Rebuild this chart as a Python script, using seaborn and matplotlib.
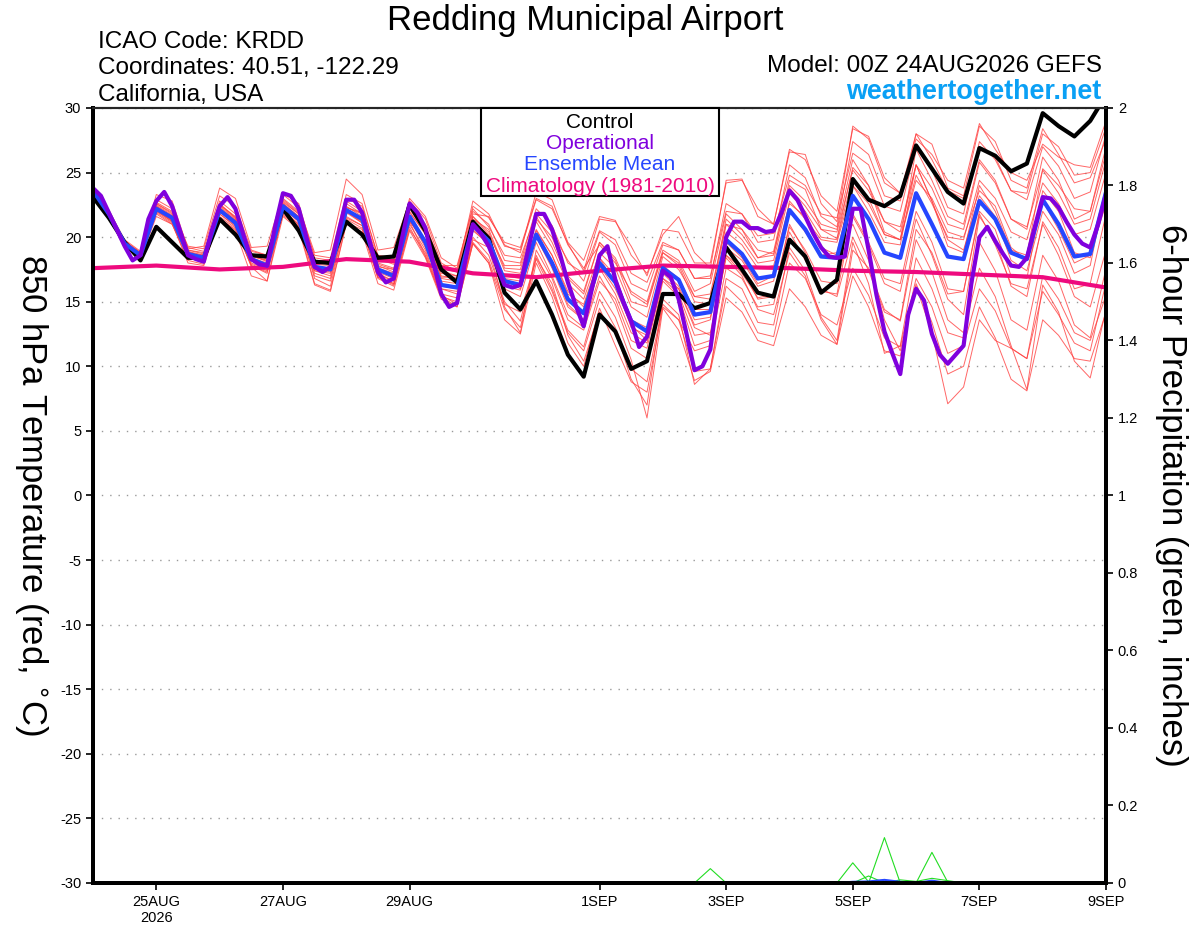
import numpy as np
import pandas as pd
import seaborn as sns
import matplotlib.pyplot as plt
from matplotlib.patches import Rectangle
from matplotlib.ticker import FuncFormatter

# forecast times (hours after 00Z 24AUG2026)
fcst_hours = np.arange(0, 385, 6)
op_hours = np.arange(0, 385, 3)      # operational run is 3-hourly
clim_hours = np.arange(0, 385, 24)   # climatology is daily

# 850 hPa temperature (C)
control = [23.1, 21.5, 19.6, 18.2, 20.8, 19.6, 18.4, 18.4, 21.4, 20.2, 18.6, 18.5,
           22.2, 20.5, 18.1, 18.0, 21.2, 20.2, 18.4, 18.5, 22.5, 20.5, 17.5, 16.5,
           21.2, 19.9, 15.7, 14.4, 16.6, 14.0, 10.9, 9.2, 14.0, 12.7, 9.8, 10.4,
           15.6, 15.6, 14.5, 14.9, 19.2, 17.5, 15.7, 15.4, 19.8, 18.5, 15.7, 16.7,
           24.5, 22.9, 22.4, 23.2, 27.1, 25.3, 23.5, 22.6, 26.9, 26.3, 25.1, 25.7,
           29.6, 28.6, 27.8, 29.0, 31.0]

ens_mean = [23.6, 21.8, 19.5, 18.6, 22.2, 21.5, 18.7, 18.4, 22.1, 21.1, 18.3, 17.8,
            22.4, 21.4, 17.7, 17.5, 22.1, 21.4, 17.5, 17.0, 21.6, 19.6, 16.3, 16.1,
            20.9, 19.7, 16.6, 16.3, 20.2, 18.0, 15.2, 14.1, 18.0, 16.5, 13.5, 12.7,
            17.6, 16.7, 14.0, 14.2, 19.8, 18.7, 16.8, 17.0, 22.1, 20.6, 18.5, 18.4,
            23.2, 21.4, 18.8, 18.4, 23.4, 21.0, 18.5, 18.3, 22.8, 21.4, 18.8, 18.3,
            22.9, 21.0, 18.5, 18.7, 23.5]

operational = [23.8, 23.2, 21.9, 20.6, 19.3, 18.2, 18.6, 21.4, 22.8, 23.5, 22.4, 20.5,
               18.6, 18.3, 18.1, 20.5, 22.4, 23.1, 22.2, 20.2, 18.3, 17.9, 17.8, 20.8,
               23.4, 23.2, 22.2, 19.9, 17.7, 17.3, 17.7, 20.3, 22.9, 22.9, 21.9, 19.6,
               17.3, 16.5, 16.8, 19.8, 22.6, 21.9, 20.7, 18.0, 15.6, 14.6, 14.9, 18.0,
               21.0, 20.3, 19.3, 17.8, 16.3, 16.1, 16.3, 19.1, 21.8, 21.8, 20.6, 18.7,
               16.5, 14.7, 13.1, 15.9, 18.6, 19.3, 16.7, 15.0, 13.5, 11.5, 12.3, 14.8,
               17.4, 16.9, 15.2, 12.5, 9.7, 10.0, 11.3, 15.8, 20.0, 21.2, 21.2, 20.7,
               20.7, 20.4, 20.5, 21.9, 23.6, 22.9, 21.6, 20.3, 19.2, 18.5, 18.4, 18.5,
               22.2, 22.2, 19.0, 15.5, 12.7, 11.0, 9.4, 14.0, 16.0, 15.1, 12.5, 10.9,
               10.2, 10.9, 11.6, 16.5, 20.0, 20.8, 19.7, 18.7, 17.8, 17.7, 18.4, 20.8,
               23.1, 23.0, 22.3, 21.2, 20.2, 19.5, 19.2, 21.0, 23.3]

climatology = [17.6, 17.8, 17.5, 17.7, 18.3, 18.1, 17.2, 16.9, 17.4,
               17.8, 17.7, 17.6, 17.4, 17.3, 17.1, 16.9, 16.1]

# ensemble members (850 hPa temperature, C)
m01 = [23.7, 22.0, 19.7, 18.8, 22.6, 21.8, 19.0, 18.7, 22.5, 21.6, 18.6, 18.1, 22.9, 21.9, 18.2, 17.9,
       22.8, 22.0, 18.3, 17.9, 22.4, 20.8, 17.6, 17.3, 22.0, 21.0, 18.2, 18.0, 22.2, 20.9, 18.0, 17.2,
       20.5, 19.8, 17.2, 16.5, 19.6, 19.0, 16.8, 17.0, 22.0, 21.8, 20.1, 20.3, 24.8, 24.0, 21.8, 21.5,
       26.5, 25.6, 22.4, 22.0, 27.0, 25.2, 22.3, 21.8, 27.4, 26.0, 23.6, 22.9, 27.0, 25.5, 23.0, 23.5, 28.0]
m02 = [23.4, 21.6, 19.2, 18.3, 21.6, 21.0, 18.2, 17.9, 21.6, 20.7, 17.8, 17.2, 21.8, 20.9, 17.0, 16.6,
       21.4, 20.7, 16.8, 16.2, 20.8, 18.5, 15.4, 15.0, 19.6, 18.2, 14.8, 14.2, 18.3, 15.8, 12.6, 11.2,
       15.2, 13.0, 9.8, 8.8, 14.8, 13.6, 9.6, 9.8, 16.2, 15.0, 12.6, 12.3, 18.0, 16.8, 14.0, 13.2,
       17.6, 15.5, 12.2, 11.5, 16.8, 14.6, 11.0, 11.6, 16.0, 14.3, 11.4, 10.6, 17.0, 15.2, 12.6, 12.0, 15.5]
m03 = [23.9, 22.1, 19.8, 18.9, 22.9, 22.2, 19.3, 19.1, 23.2, 22.4, 19.0, 18.6, 23.0, 22.0, 18.6, 18.4,
       23.3, 22.6, 18.5, 18.2, 23.0, 21.6, 18.4, 17.6, 22.4, 21.5, 19.6, 19.2, 23.0, 22.4, 19.4, 17.6,
       19.4, 18.0, 15.8, 15.0, 19.0, 18.2, 15.8, 16.4, 21.8, 20.6, 18.4, 18.9, 24.4, 23.7, 20.6, 19.9,
       25.4, 24.0, 21.2, 20.4, 25.6, 22.8, 19.3, 18.8, 24.0, 22.0, 19.0, 18.6, 25.3, 24.0, 22.2, 22.0, 26.5]
m04 = [23.5, 21.7, 19.4, 18.5, 22.0, 21.2, 18.4, 18.1, 21.8, 20.8, 17.9, 17.4, 22.0, 21.0, 17.2, 16.8,
       21.6, 20.9, 17.0, 16.4, 21.0, 19.0, 15.6, 15.3, 20.0, 18.6, 15.0, 13.5, 18.6, 16.0, 12.8, 11.5,
       15.8, 13.8, 10.5, 6.0, 14.5, 12.8, 8.9, 9.6, 15.3, 14.2, 12.0, 11.6, 16.0, 14.6, 12.4, 11.7,
       19.0, 17.6, 14.4, 13.5, 19.8, 17.3, 13.6, 12.6, 17.6, 15.4, 11.6, 8.2, 16.3, 14.2, 10.4, 9.1, 14.4]
m05 = [23.6, 21.9, 19.6, 18.7, 22.4, 21.6, 18.8, 18.6, 22.3, 21.3, 18.4, 18.0, 22.6, 21.6, 17.9, 17.8,
       22.3, 21.8, 17.8, 17.3, 21.9, 20.3, 17.0, 16.8, 21.6, 20.4, 17.4, 17.2, 21.2, 19.2, 16.4, 15.2,
       18.8, 17.6, 14.6, 13.8, 18.5, 17.5, 15.4, 15.6, 21.0, 19.8, 18.0, 18.2, 23.4, 22.0, 20.0, 19.8,
       24.6, 23.0, 20.2, 19.8, 24.8, 22.6, 20.0, 19.8, 24.4, 23.0, 20.4, 19.8, 24.2, 22.6, 20.2, 20.6, 25.0]
m06 = [23.3, 21.5, 19.2, 18.4, 21.8, 21.0, 18.5, 18.2, 21.4, 20.6, 17.8, 17.3, 21.7, 20.8, 16.4, 15.9,
       21.1, 20.6, 16.9, 16.3, 20.6, 18.8, 15.5, 14.8, 19.8, 19.2, 14.6, 12.6, 19.0, 16.8, 13.6, 12.8,
       16.6, 15.2, 12.0, 11.4, 16.8, 15.6, 12.4, 12.6, 18.6, 17.2, 15.3, 15.6, 20.8, 19.0, 16.6, 16.4,
       21.6, 19.4, 16.4, 15.8, 21.4, 18.6, 15.2, 14.0, 21.6, 19.8, 16.2, 15.4, 21.2, 19.2, 16.0, 16.4, 21.8]
m07 = [23.8, 22.1, 19.6, 18.8, 23.3, 22.8, 19.1, 19.3, 23.8, 23.0, 19.2, 19.3, 23.3, 22.3, 18.8, 19.0,
       24.5, 23.3, 19.0, 19.2, 22.8, 21.4, 18.0, 17.3, 22.8, 21.8, 19.3, 19.0, 22.9, 22.2, 19.5, 17.4,
       21.4, 21.2, 19.3, 17.0, 20.6, 20.4, 18.0, 18.0, 24.2, 24.4, 22.2, 21.0, 26.6, 26.4, 22.6, 21.2,
       28.6, 27.6, 24.2, 23.4, 27.6, 26.4, 24.4, 23.8, 28.8, 26.8, 25.0, 24.4, 27.2, 26.2, 25.6, 25.4, 29.0]
m08 = [23.5, 21.8, 19.3, 18.6, 22.1, 21.3, 18.6, 18.3, 22.0, 21.0, 18.2, 17.7, 22.3, 21.3, 17.4, 17.2,
       21.9, 21.1, 17.3, 16.8, 21.4, 19.2, 16.0, 15.6, 20.5, 19.5, 16.0, 15.4, 19.6, 17.0, 14.0, 13.0,
       17.0, 14.8, 11.4, 10.6, 16.6, 15.4, 11.6, 12.0, 18.6, 17.6, 15.2, 15.4, 21.0, 18.8, 15.8, 15.6,
       21.8, 19.6, 16.8, 16.4, 22.0, 19.6, 16.0, 15.8, 22.0, 20.6, 17.0, 16.8, 23.6, 22.0, 18.8, 18.4, 24.0]
m09 = [23.6, 21.9, 19.5, 18.5, 22.3, 21.4, 18.7, 18.5, 22.1, 21.2, 18.2, 17.6, 22.5, 21.4, 17.6, 17.4,
       22.0, 21.2, 17.4, 16.9, 21.7, 19.8, 16.6, 16.4, 21.2, 20.1, 16.8, 16.6, 20.6, 18.6, 15.8, 14.6,
       18.4, 16.4, 13.0, 12.4, 17.8, 16.8, 14.4, 14.4, 20.4, 19.4, 17.6, 17.8, 22.6, 21.6, 19.2, 18.6,
       21.0, 18.2, 13.6, 11.2, 16.2, 12.6, 7.1, 8.4, 13.6, 12.0, 11.4, 10.6, 15.8, 14.0, 11.8, 11.2, 16.5]
m10 = [23.7, 21.9, 19.6, 18.7, 22.5, 21.7, 18.9, 18.6, 22.6, 21.5, 18.5, 18.2, 22.7, 21.8, 18.0, 18.0,
       22.4, 21.6, 17.9, 17.5, 22.0, 20.2, 16.8, 16.6, 21.4, 20.6, 17.6, 17.5, 21.4, 20.0, 17.0, 15.8,
       19.6, 18.2, 15.0, 14.6, 18.8, 17.8, 15.0, 14.8, 21.0, 20.6, 19.0, 18.7, 24.0, 22.8, 21.0, 20.6,
       26.0, 24.0, 20.4, 19.8, 26.8, 24.4, 21.6, 21.0, 26.0, 24.4, 21.4, 20.6, 26.2, 24.4, 21.4, 22.0, 27.0]
m11 = [23.5, 21.7, 19.4, 18.4, 22.0, 21.3, 18.5, 18.0, 21.8, 20.9, 17.7, 16.6, 22.1, 21.0, 16.8, 16.2,
       21.5, 20.9, 16.9, 16.4, 21.2, 18.6, 15.4, 14.6, 19.5, 18.0, 13.6, 12.5, 18.0, 15.4, 11.8, 10.0,
       14.5, 11.6, 8.8, 8.0, 14.6, 13.6, 11.2, 11.6, 17.6, 16.8, 14.6, 14.8, 20.4, 18.2, 16.0, 15.4,
       20.0, 17.4, 14.2, 13.6, 20.6, 18.8, 15.6, 15.8, 21.8, 19.4, 16.4, 16.0, 21.0, 18.6, 15.4, 14.6, 19.0]
m12 = [23.6, 21.8, 19.5, 18.6, 22.2, 21.6, 18.9, 18.4, 22.2, 21.3, 18.7, 18.3, 22.5, 21.5, 17.6, 17.3,
       22.2, 21.4, 17.6, 17.2, 22.2, 20.4, 17.4, 17.0, 21.0, 19.6, 16.8, 16.0, 20.5, 18.6, 15.6, 14.8,
       18.4, 17.0, 13.6, 13.0, 17.4, 16.2, 13.6, 13.8, 19.2, 18.2, 16.2, 16.6, 22.8, 21.4, 19.8, 19.6,
       24.0, 22.6, 20.2, 19.8, 24.4, 23.0, 20.4, 20.0, 23.6, 22.4, 19.2, 18.2, 22.8, 20.6, 18.0, 18.6, 22.6]
m13 = [23.6, 21.7, 19.4, 18.5, 22.3, 21.5, 18.8, 18.5, 22.8, 21.8, 18.9, 18.6, 22.2, 21.2, 17.5, 17.5,
       22.3, 21.9, 17.7, 17.5, 21.2, 19.8, 16.9, 16.9, 21.8, 21.6, 19.4, 18.8, 23.5, 22.9, 19.6, 18.2,
       21.6, 21.3, 18.6, 17.2, 20.2, 21.6, 18.8, 17.6, 24.4, 24.5, 21.6, 21.0, 26.8, 26.0, 23.2, 22.0,
       28.4, 27.8, 24.6, 23.4, 28.0, 26.0, 23.6, 23.0, 27.0, 26.2, 23.6, 23.4, 28.0, 27.0, 24.8, 25.0, 28.5]
m14 = [23.4, 21.6, 19.3, 18.3, 21.9, 21.1, 18.0, 17.8, 21.5, 20.5, 17.0, 16.6, 21.6, 20.6, 16.3, 15.8,
       21.0, 20.4, 16.4, 15.9, 20.5, 18.4, 15.2, 14.6, 19.5, 18.0, 14.4, 13.0, 18.4, 16.4, 12.4, 10.4,
       14.2, 12.8, 9.0, 7.0, 15.2, 14.0, 8.6, 9.8, 16.8, 16.0, 13.4, 13.2, 19.2, 17.4, 13.8, 12.0,
       19.6, 16.4, 11.0, 11.6, 18.4, 16.0, 12.6, 12.2, 19.6, 17.4, 13.6, 12.8, 18.6, 16.6, 13.2, 12.2, 17.6]
m15 = [23.7, 21.9, 19.5, 18.6, 22.4, 21.6, 18.6, 18.3, 22.0, 21.0, 18.0, 17.5, 22.6, 21.6, 17.8, 17.6,
       22.0, 21.4, 17.2, 16.6, 21.4, 19.4, 16.2, 16.0, 21.0, 19.4, 17.0, 16.8, 20.0, 17.6, 14.6, 13.6,
       17.8, 16.0, 13.2, 12.0, 17.2, 16.0, 13.2, 13.6, 19.6, 18.4, 16.4, 17.0, 22.0, 20.4, 18.6, 18.8,
       24.0, 22.0, 19.6, 19.4, 25.6, 22.8, 19.8, 19.0, 23.2, 21.6, 18.2, 17.4, 22.0, 20.2, 17.2, 17.8, 23.8]
m16 = [23.8, 22.0, 19.7, 18.8, 22.7, 22.0, 19.2, 18.9, 22.4, 21.4, 18.4, 17.9, 23.4, 22.6, 18.4, 18.2,
       23.0, 22.4, 18.6, 18.4, 22.6, 21.0, 17.8, 17.8, 22.2, 20.8, 18.6, 18.4, 21.8, 20.4, 18.2, 16.6,
       20.4, 19.4, 16.4, 15.8, 19.4, 19.0, 16.8, 16.8, 22.6, 21.8, 19.6, 19.8, 25.6, 24.6, 21.6, 20.8,
       27.4, 26.4, 23.2, 22.8, 28.0, 27.2, 23.8, 23.2, 28.6, 27.4, 24.4, 23.8, 28.4, 26.4, 24.2, 24.6, 27.6]
m17 = [23.5, 21.8, 19.4, 18.6, 22.1, 21.2, 18.5, 18.2, 22.0, 21.1, 18.3, 17.9, 22.3, 21.2, 17.4, 17.0,
       22.0, 21.1, 17.1, 16.6, 21.3, 19.4, 16.0, 15.8, 20.6, 19.4, 16.2, 15.9, 20.0, 17.8, 14.8, 13.6,
       17.6, 15.6, 12.6, 11.8, 16.8, 16.0, 13.0, 12.4, 18.4, 17.0, 14.4, 14.0, 18.8, 17.0, 13.6, 11.7,
       17.0, 14.6, 11.2, 10.8, 16.4, 13.4, 9.4, 10.0, 14.6, 12.2, 9.0, 8.1, 13.6, 12.4, 10.6, 10.4, 14.2]
m18 = [23.6, 21.8, 19.6, 18.7, 22.6, 21.9, 19.0, 18.8, 22.5, 21.5, 18.6, 18.2, 22.8, 21.8, 18.1, 17.9,
       22.6, 21.8, 18.0, 17.6, 22.5, 20.6, 17.2, 17.0, 21.6, 20.2, 17.8, 17.8, 21.6, 19.6, 16.8, 15.6,
       19.6, 18.4, 15.6, 14.8, 18.8, 18.0, 15.4, 15.2, 21.4, 20.2, 18.4, 18.6, 23.8, 22.4, 20.6, 20.4,
       25.2, 23.6, 21.2, 20.8, 25.6, 23.8, 21.0, 20.6, 25.8, 24.2, 21.4, 20.8, 25.2, 23.4, 21.0, 21.4, 26.0]
members = [m01, m02, m03, m04, m05, m06, m07, m08, m09,
           m10, m11, m12, m13, m14, m15, m16, m17, m18]

# 6-hour precipitation (inches): nonzero steps only, (step index, value)
precip_members = [
    [(39, 0.037)],
    [(48, 0.052), (49, 0.003)],
    [(50, 0.117)],
    [(53, 0.079), (54, 0.002)],
    [(46, 0.003), (49, 0.018), (51, 0.008), (52, 0.004), (53, 0.012), (54, 0.006)],
]
precip_mean = [(48, 0.003), (49, 0.004), (50, 0.008), (51, 0.003), (53, 0.006)]

tick_days = [1, 3, 5, 8, 10, 12, 14, 16]
tick_labels = ['25AUG\n2026', '27AUG', '29AUG', '1SEP', '3SEP', '5SEP', '7SEP', '9SEP']

sns.set_style('white')
plt.rcParams['font.family'] = ['Liberation Sans', 'DejaVu Sans']
plt.rcParams['text.color'] = 'black'
plt.rcParams['axes.labelcolor'] = 'black'
plt.rcParams['xtick.color'] = 'black'
plt.rcParams['ytick.color'] = 'black'
plt.rcParams['axes.unicode_minus'] = False

days = fcst_hours / 24.0
df_mem = pd.DataFrame({
    'day': np.tile(days, len(members)),
    'temp': np.concatenate(members),
    'member': np.repeat(np.arange(len(members)), len(days)),
})

fig = plt.figure(figsize=(12, 9.27), dpi=100)
ax = fig.add_axes([0.0775, 0.0475, 0.8442, 0.836])

sns.lineplot(data=df_mem, x='day', y='temp', units='member', estimator=None,
             color='#ff4040', linewidth=0.7, alpha=0.8, ax=ax, legend=False)
sns.lineplot(x=clim_hours / 24.0, y=climatology, color='#ee0a7e', linewidth=3, ax=ax)
sns.lineplot(x=days, y=control, color='black', linewidth=3, ax=ax)
sns.lineplot(x=days, y=ens_mean, color='#2546ff', linewidth=3, ax=ax)
sns.lineplot(x=op_hours / 24.0, y=operational, color='#8000dd', linewidth=3, ax=ax)

ax.set_xlim(0, 16)
ax.set_ylim(-30, 30)
ax.set_yticks(np.arange(-30, 31, 5))
ax.set_xticks(tick_days)
ax.set_xticklabels(tick_labels)
ax.set_xlabel('')
ax.set_ylabel('850 hPa Temperature (red, $^{\\circ}$C)', fontsize=25, rotation=-90,
              labelpad=34)
ax.yaxis.grid(True, linestyle=(0, (1, 5)), color='#999999', linewidth=1)
ax.set_axisbelow(True)
ax.tick_params(axis='both', direction='out', length=5, width=1.2, labelsize=10.5,
               bottom=True, left=True)

# precipitation on right axis
ax2 = ax.twinx()
for events in precip_members:
    vals = np.zeros(len(days))
    for step, v in events:
        vals[step] = v
    sns.lineplot(x=days, y=vals, color='#22dd22', linewidth=0.8, ax=ax2)
pm = np.zeros(len(days))
for step, v in precip_mean:
    pm[step] = v
sns.lineplot(x=days, y=pm, color='#2546ff', linewidth=1.5, ax=ax2)
ax2.set_ylim(0, 2)
ax2.set_xlim(0, 16)
ax2.set_yticks(np.arange(0, 2.01, 0.2))
ax2.yaxis.set_major_formatter(FuncFormatter(lambda v, p: '%g' % round(v, 1)))
ax2.tick_params(axis='y', direction='out', length=5, width=1.2, labelsize=10.5, right=True)
ax2.set_ylabel('6-hour Precipitation (green, inches)', fontsize=25, rotation=-90,
               labelpad=36)

for a in (ax, ax2):
    for side in ['left', 'right', 'bottom']:
        a.spines[side].set_linewidth(2.8)
        a.spines[side].set_color('black')
    a.spines['top'].set_linewidth(1.5)

# header texts
fig.text(0.488, 0.978, 'Redding Municipal Airport', fontsize=25, ha='center', va='center')
fig.text(0.0817, 0.955, 'ICAO Code: KRDD', fontsize=17.5, ha='left', va='center')
fig.text(0.0817, 0.927, 'Coordinates: 40.51, -122.29', fontsize=17.5, ha='left', va='center')
fig.text(0.0817, 0.898, 'California, USA', fontsize=17.5, ha='left', va='center')
fig.text(0.918, 0.929, 'Model: 00Z 24AUG2026 GEFS', fontsize=17.5, ha='right', va='center')
fig.text(0.918, 0.901, 'weathertogether.net', fontsize=19.4, fontweight='bold',
         color='#0aa0f5', ha='right', va='center')

# legend box
fig.add_artist(Rectangle((0.4008, 0.7886), 0.1984, 0.0949, transform=fig.transFigure,
                         facecolor='white', edgecolor='black', linewidth=1.5, zorder=5))
leg_items = [('Control', 'black'), ('Operational', '#8000dd'),
             ('Ensemble Mean', '#2546ff'), ('Climatology (1981-2010)', '#ee0a7e')]
for k, (label, col) in enumerate(leg_items):
    fig.text(0.5, 0.8683 - k * 0.0231, label, color=col, fontsize=15,
             ha='center', va='center', zorder=6)

plt.savefig('out.png', dpi=100)
